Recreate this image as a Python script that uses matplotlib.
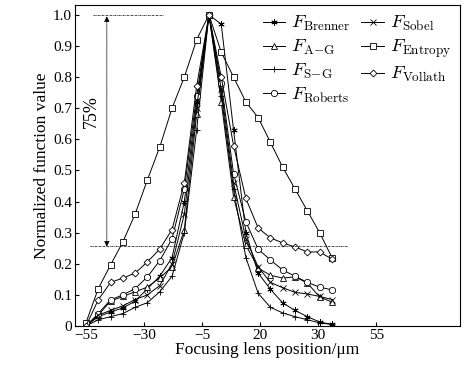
import numpy as np
import matplotlib
matplotlib.use("Agg")
import matplotlib.pyplot as plt

plt.rcParams["font.family"] = ["Liberation Serif", "DejaVu Serif"]
plt.rcParams["mathtext.fontset"] = "cm"

# lens positions (um), 5 um step, peak at -5
positions = np.arange(-55, 50, 5)

brenner = [0, 0.03, 0.045, 0.058, 0.08, 0.12, 0.16, 0.22, 0.40, 0.72, 1.0,
           0.97, 0.63, 0.30, 0.17, 0.118, 0.074, 0.05, 0.03, 0.013, 0.005]
a_g = [0, 0.035, 0.08, 0.095, 0.11, 0.125, 0.155, 0.19, 0.31, 0.68, 1.0,
       0.72, 0.415, 0.26, 0.186, 0.163, 0.154, 0.158, 0.138, 0.093, 0.077]
s_g = [0, 0.02, 0.03, 0.04, 0.06, 0.075, 0.11, 0.16, 0.30, 0.63, 1.0,
       0.74, 0.44, 0.22, 0.105, 0.06, 0.042, 0.03, 0.02, 0.01, 0.005]
roberts = [0, 0.04, 0.084, 0.10, 0.12, 0.158, 0.21, 0.28, 0.44, 0.74, 1.0,
           0.78, 0.49, 0.335, 0.247, 0.212, 0.18, 0.16, 0.14, 0.125, 0.116]
sobel = [0, 0.035, 0.05, 0.065, 0.085, 0.10, 0.13, 0.20, 0.36, 0.70, 1.0,
         0.76, 0.46, 0.28, 0.19, 0.14, 0.123, 0.108, 0.103, 0.095, 0.085]
entropy = [0.01, 0.12, 0.196, 0.27, 0.36, 0.47, 0.575, 0.70, 0.80, 0.92, 1.0,
           0.88, 0.80, 0.72, 0.67, 0.59, 0.51, 0.44, 0.37, 0.30, 0.22]
vollath = [0, 0.084, 0.14, 0.154, 0.17, 0.206, 0.247, 0.31, 0.46, 0.77, 1.0,
           0.80, 0.58, 0.41, 0.315, 0.283, 0.267, 0.254, 0.238, 0.238, 0.215]

series = [
    (brenner, r"$F_{\mathrm{Brenner}}$", (6, 2, 0)),
    (a_g, r"$F_{\mathrm{A\!-\!G}}$", "^"),
    (s_g, r"$F_{\mathrm{S\!-\!G}}$", "+"),
    (roberts, r"$F_{\mathrm{Roberts}}$", "o"),
    (sobel, r"$F_{\mathrm{Sobel}}$", "x"),
    (entropy, r"$F_{\mathrm{Entropy}}$", "s"),
    (vollath, r"$F_{\mathrm{Vollath}}$", "D"),
]

xtick_pos = np.linspace(-55, 63, 6)
xtick_labels = ["\u221255", "\u221230", "\u22125", "20", "30", "55"]
ytick_pos = np.arange(0, 1.01, 0.1)
ytick_labels = ["0"] + ["%.1f" % v for v in ytick_pos[1:]]

fig = plt.figure(figsize=(4.65, 3.73), dpi=100)
ax = fig.add_axes([0.161, 0.126, 0.828, 0.861])

for values, label, marker in series:
    size = 3.5 if marker == "D" else 4.5
    ax.plot(positions, values, color="k", lw=0.7, marker=marker,
            markersize=size, markerfacecolor="white", markeredgecolor="k",
            markeredgewidth=0.6, label=label)

# 75% annotation
ax.plot([-52.2, -23.7], [1.0, 1.0], color="k", lw=0.5, dashes=(3, 1, 1, 1))
ax.plot([-53.4, 51.5], [0.257, 0.257], color="k", lw=0.5, dashes=(3, 1, 1, 1))
ax.annotate("", xy=(-46.5, 0.995), xytext=(-46.5, 0.255),
            arrowprops=dict(arrowstyle="<|-|>", color="k", lw=0.5, ls=(0, (2, 1)),
                            mutation_scale=8, shrinkA=0, shrinkB=0))
ax.text(-52.6, 0.69, "75%", rotation=90, ha="center", va="center", fontsize=13)

ax.set_xlim(-59.5, 97)
ax.set_ylim(0, 1.032)
ax.set_xticks(xtick_pos)
ax.set_xticklabels(xtick_labels)
ax.set_yticks(ytick_pos)
ax.set_yticklabels(ytick_labels)
ax.tick_params(direction="in", length=3, labelsize=11, pad=2)
ax.set_xlabel("Focusing lens position/\u03bcm", fontsize=12.5, labelpad=0)
ax.set_ylabel("Normalized function value", fontsize=12.5, labelpad=2)

ax.legend(loc="upper right", ncol=2, frameon=False, fontsize=13.5,
          handlelength=1.2, handletextpad=0.3, columnspacing=0.6,
          labelspacing=0.25, borderaxespad=0.1)

fig.savefig("out.png", dpi=100)
